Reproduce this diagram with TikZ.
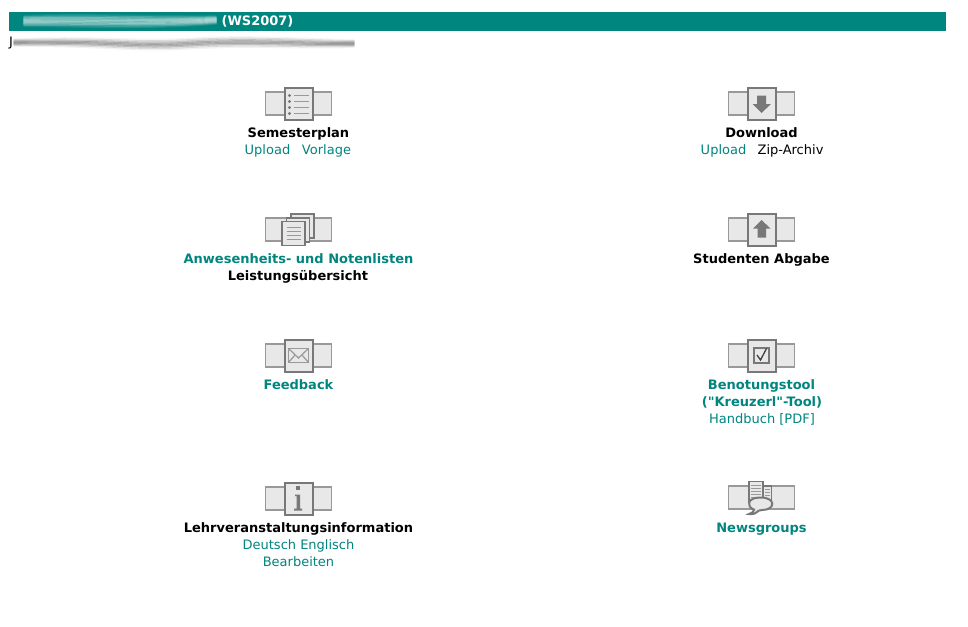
\documentclass[tikz,border=0pt]{standalone}
\usepackage{fontspec}
\setmainfont{DejaVu Sans}
\newfontfamily\plainquote{DejaVu Sans}
\definecolor{teal1}{HTML}{00857F}
\definecolor{iconfill}{HTML}{E8E8E8}
\definecolor{iconline}{HTML}{999999}
\definecolor{icondark}{HTML}{787878}
\tikzset{
  x=1pt,y=-1pt,
  lab/.style={anchor=base,inner sep=0pt,font=\fontsize{13}{15}\selectfont},
  boldlab/.style={lab,font=\fontsize{13}{15}\selectfont\bfseries},
  linkc/.style={text=teal1},
  side/.style={draw=iconline,fill=iconfill,line width=1.1pt},
  front/.style={draw=icondark,fill=iconfill,line width=2pt},
  sheet/.style={draw=icondark,fill=iconfill,line width=1.8pt},
  rule/.style={draw=iconline,line width=1.2pt},
  glyph/.style={fill=icondark,draw=none}
}
\newcommand{\sidebar}[2]{%
  \draw[side] (#1-33,#2-11.5) rectangle (#1+33,#2+11.5);}
\newcommand{\iconbase}[2]{%
  \sidebar{#1}{#2}
  \draw[front] (#1-14,#2-16) rectangle (#1+14,#2+16);}
\begin{document}
\begin{tikzpicture}
\useasboundingbox (0,0) rectangle (968,626);
\fill[white] (0,0) rectangle (968,626);
% header bar
\fill[teal1] (9,12) rectangle (946,31);
\foreach \d/\o in {-6/.1,-4.5/.2,-3/.3,-1.5/.35,0/.35,1.5/.35,3/.3,4.5/.2,6/.1}{
  \draw[line width=2.4pt,line cap=round,draw=white,opacity=\o] (24,21+\d*.8) .. controls (90,20+\d) and (150,23+\d) .. (216,20+\d*.6);
}
\node[boldlab,text=white] (title) at (257.5,26) {(WS2007)};
% smeared second line
\node[lab,anchor=base west] (jay) at (9,47) {J};
\foreach \d/\o in {-5/.08,-3.5/.25,-2/.4,-.7/.55,.7/.55,2/.45,3.5/.25,5/.1}{
  \draw[line width=1.8pt,line cap=round,draw=gray,opacity=\o] (14,42.5+\d*.7) .. controls (120,41+\d) and (130,47+\d) .. (190,43.5+\d) .. controls (250,40+\d) and (300,44+\d) .. (354,43.5+\d*.7);
}
% ---- Semesterplan
\iconbase{298.5}{103.5}
\foreach \y in {95.5,101.5,107.5,113.5}{
  \fill[icondark] (289.5,\y) circle (1.7);
  \draw[rule] (293.5,\y) -- (309,\y);
}
\node[boldlab] (n1) at (298.5,137) {Semesterplan};
\node[lab,linkc] (n1a) at (267.5,154) {Upload};
\node[lab,linkc] (n1b) at (326.5,154) {Vorlage};
% ---- Download
\iconbase{761.5}{103.5}
\fill[glyph] (757,95.5) -- (766,95.5) -- (766,104) -- (771,104) -- (761.5,113) -- (752.5,104) -- (757,104) -- cycle;
\node[boldlab] (n2) at (761.5,137) {Download};
\node[lab,linkc] (n2a) at (723.5,154) {Upload};
\node[lab] (n2b) at (790.5,154) {Zip-Archiv};
% ---- Anwesenheit
\sidebar{298.5}{229.5}
\draw[sheet] (291,214) rectangle (314,238);
\draw[sheet] (286.5,218) rectangle (309.5,242);
\draw[sheet] (282,221.5) rectangle (305,245.5);
\foreach \y in {227.5,231.5,235.5,239.5}{\draw[rule] (286.5,\y) -- (300.5,\y);}
\node[boldlab,linkc] (n3) at (298.5,263) {Anwesenheits- und Notenlisten};
\node[boldlab] (n3a) at (298,280) {Leistungsübersicht};
% ---- Abgabe
\iconbase{761.5}{229.5}
\fill[glyph] (757.5,237.5) -- (766,237.5) -- (766,228.5) -- (770.5,228.5) -- (761.5,220) -- (753,228.5) -- (757.5,228.5) -- cycle;
\node[boldlab] (n4) at (761.5,263) {Studenten Abgabe};
% ---- Feedback
\iconbase{298.5}{355.5}
\draw[draw=iconline,line width=1.2pt,fill=iconfill] (288.5,348.5) rectangle (308.5,362.5);
\draw[draw=iconline,line width=1.2pt] (288.5,348.5) -- (298.5,358) -- (308.5,348.5);
\draw[draw=iconline,line width=1.2pt] (288.5,362.5) -- (295,355);
\draw[draw=iconline,line width=1.2pt] (308.5,362.5) -- (302,355);
\node[boldlab,linkc] (n5) at (298.5,389) {Feedback};
% ---- Benotungstool
\iconbase{761.5}{355.5}
\draw[draw=icondark,line width=2pt,fill=iconfill] (754,348) rectangle (769,363);
\draw[draw=black!75,line width=1.3pt] (757,355) -- (760.5,360) -- (766.5,348.5);
\node[boldlab,linkc] (n6) at (761.5,389) {Benotungstool};
\node[boldlab,linkc] (n6a) at (762,406) {{\plainquote\bfseries ("Kreuzerl"-Tool)}};
\node[lab,linkc] (n6b) at (762,423) {Handbuch [PDF]};
% ---- Information
\iconbase{298.5}{498.5}
\fill[icondark] (296,486) rectangle (300,489.5);
\fill[icondark] (295,494.5) -- (300,494.5) -- (300,508.5) -- (302,508.5) -- (302,510.5) -- (294,510.5) -- (294,508.5) -- (296.5,508.5) -- (296.5,496) -- (295,496) -- cycle;
\node[boldlab] (n7) at (298.5,532) {Lehrveranstaltungsinformation};
\node[lab,linkc] (n7a) at (298.5,549) {Deutsch Englisch};
\node[lab,linkc] (n7b) at (298.5,566) {Bearbeiten};
% ---- Newsgroups
\sidebar{761.5}{497.5}
\draw[sheet,line width=1.5pt] (763,486) rectangle (771.5,503);
\foreach \y in {489,492,495}{\draw[rule,line width=1pt] (765,\y) -- (770,\y);}
\draw[sheet,line width=1.5pt] (749,481.5) rectangle (763,502);
\foreach \y in {485,488,491,494,497}{\draw[rule,line width=1pt] (751,\y) -- (761,\y);}
\draw[draw=icondark,fill=iconfill,line width=2pt] (754,509.5) .. controls (746,507) and (747,497.5) .. (760,497.5) .. controls (776,497) and (776,510) .. (762,510) .. controls (759,510) and (758,511) .. (757,512) .. controls (755,514) and (751,514.5) .. (749,514) .. controls (752,513) and (754,512) .. (754,509.5) -- cycle;
\node[boldlab,linkc] (n8) at (761.5,532) {Newsgroups};
\end{tikzpicture}
\end{document}
